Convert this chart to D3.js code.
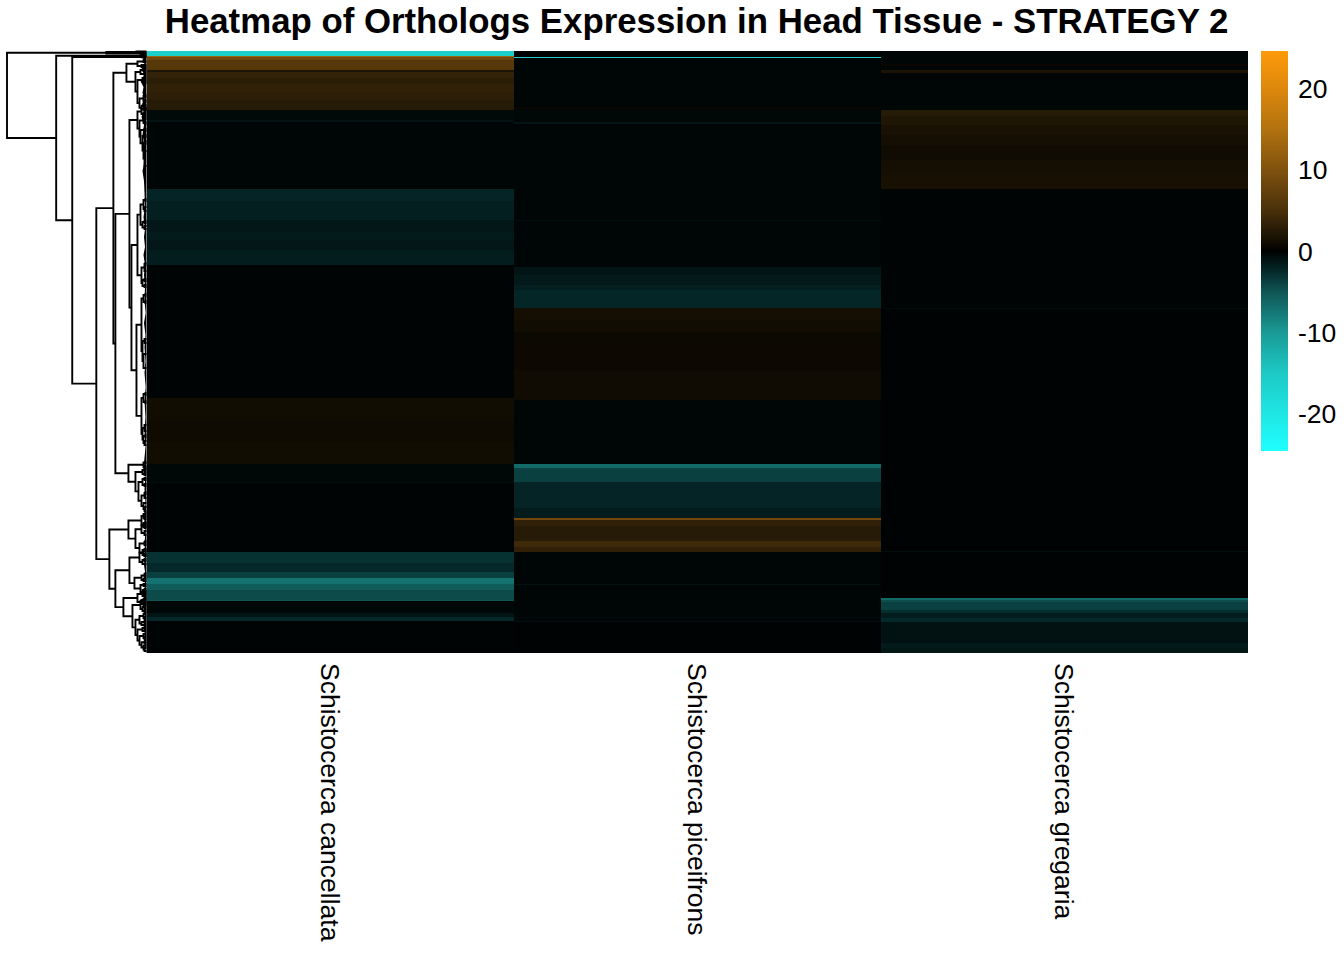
<!DOCTYPE html>
<html><head><meta charset="utf-8">
<script src="https://cdn.jsdelivr.net/npm/d3@7"></script>
<style>html,body{margin:0;background:#fff}svg{display:block}text{font-family:"Liberation Sans",Arial,sans-serif;fill:#000}</style>
</head><body><svg id="c" width="1344" height="960"></svg>
<script>
const titleText = "Heatmap of Orthologs Expression in Head Tissue - STRATEGY 2";
const species = ["Schistocerca cancellata","Schistocerca piceifrons","Schistocerca gregaria"];
const totalRows = 602;

// heatmap: consecutive bands per species, top to bottom
const cancellataRows = [5,1,3,10,2,6,6,8,8,10,10,2,67,12,19,12,8,10,15,133,22,22,22,18,1,69,11,9,6,6,6,10,1,12,4,4,32];
const cancellataVals = [-16,13,8.5,6.2,1.8,3.4,2.9,3.3,3,2.6,-0.5,-1.1,-0.25,-2.2,-1.9,-1.4,-1.6,-1.4,-1.7,-0.2,1.1,0.9,1.1,-0.35,-0.9,-0.2,-3,-2.5,-3.8,-7.2,-5.5,-4.4,-5,-0.4,-1.2,-2.4,-0.2];
const piceifronsRows = [6,1,49,2,13,2,96,1,46,8,10,5,18,12,12,13,25,30,64,4,2,12,26,10,2,6,15,6,5,32,1,32,1,3,1,31];
const piceifronsVals = [-0.1,-16,-0.25,0.6,-0.4,-1.2,-0.25,-0.8,-0.25,-1.2,-1.5,-1.9,-2.3,1.3,1.1,0.7,0.8,1.0,-0.25,-6.5,-4,-3.8,-2.2,-1.6,8.5,3.2,2.6,4.2,3.2,-0.25,-1,-0.25,-0.8,-0.25,-0.9,-0.15];
const gregariaRows = [13,2,4,3,37,6,9,10,10,15,15,14,119,1,242,1,46,2,2,8,3,5,4,21,5,5];
const gregariaVals = [-0.25,0.6,-0.25,1.9,-0.25,2.6,2.1,1.5,1.2,1,1.2,1.4,-0.2,-0.6,-0.15,-0.8,-0.15,-6.5,-4.6,-3.8,-2.7,-1.7,-2.5,-1,-1.6,-1.3];

// colour key
const keyStops  = [-24.6,-20,-15,-10,-5,-2.5,-0.25,0,1.2,2.5,5,10,15,20,24.6];
const keyColors = ["#20ffff","#1ee6e4","#1dc9c5","#1a9a96","#0f5554","#05292a","#000505","#000000","#140e03","#251a06","#4a300a","#80520e","#b2720f","#dd880c","#ff9a0a"];
const keyTicks  = [20,10,0,-10,-20];

// row dendrogram: [height, child, child]; a bare number is a leaf at that row
const dendrogram =
[139,
  [40,[10,0.5,1.5],2.5],
  [90,
    [6,[3,3.5,4.5],5.5],
    [74,
      [4,5.5,6.5],
      [50,
        [33,
          [20,
            [9,[3,10,11],[5,14,[2,15.5,16.5]]],
            [11,
              [6,[3,18,20],[2,22,24]],
              [9,
                [4,[2,26,28],[2,30,32]],
                [7,[3,[1,44,46],[2,49,51]],[5,[2,54,56],[3,[1,58,59],[1,57,60]]]]]]],
          [31,
            [17,
              [9,
                [5,[2,57,59],[3,62,64]],
                [7,[3,[1,66,68],[1,71,73]],[6,[2,78,80],[4,[2,84,86],[3,[1,90,93],[2,100,115]]]]]],
              [15,
                [9,
                  [6,[3,[1,148,150],[2,156,160]],[4,[2,170,172],[2,175,178]]],
                  [5,[2,[1,212,214],220],[4,[2,228,230],[2,234,236]]]],
                [10,
                  [5,[3,[1,243,245],[1,250,252]],[4,[2,288,292],[3,303,317]]],
                  [5,[3,[1,342,344],[1,350,352]],[4,[2,374,380],[3,[1,384,386],[2,390,394]]]]]]],
            [18,
              [3,[1,411,412],[2,415,417]],
              [11,
                [4,[2,418,420],[2,422,424]],
                [8,[4,[2,427,429],[2,433,435]],[5,[2,[1,441,443],447],[3,452,[2,456,460]]]]]]]],
        [37,
          [18,
            [5,[3,[1,462,464],[2,466,468]],[3,[1,471,473],[2,475,477]]],
            [11,[5,[3,[1,472,474],476],[2,480,484]],[7,[2,[1,490,492],494],[4,[2,498,500],[2,503,505]]]]],
          [31,
            [17,
              [7,[3,[1,499,501],[2,503,505]],[4,[2,508,510],513]],
              [12,[5,[2,[1,522,524],526],[3,528,530]],[6,[3,533,535],[4,[2,538,540],[2,542,544]]]]],
            [23,
              [9,[4,[2,540,542],[2,544,546]],[5,[2,548,550],[3,552,554]]],
              [14,
                [6,[3,[1,547,549],[2,551,553]],[4,[2,555,557],[2,559,561]]],
                [11,
                  [7,[3,[1,562,564],[2,566,568]],[5,[2,570,572],574]],
                  [9,[4,[2,576,578],580],[7,[3,[1,582,584],[2,586,588]],[5,[2,[1,590,591],592],[3,[1,594,595],[2,597,600]]]]]]]]]]]]]];

// dense tips of the tree beside the heatmap: [row, depth]
const fringe = [[0,1],[6,1],[8,4],[12,2],[18,5],[24,2],[30,6],[36,3],[42,4],[48,2],[54,5],[60,3],[66,5],[74,2.5],[84,4],[92,2],[100,3.5],[110,2],[120,4],[130,2.5],[142,2],[156,1.5],[166,3],[178,1.5],[186,2.5],[196,1.5],[204,3],[214,1.5],[224,2.5],[236,1.5],[250,2],[262,0.8],[272,2.5],[284,1],[296,2],[310,1],[322,2],[336,0.8],[350,2],[366,1],[380,2],[396,1],[412,2.5],[424,1],[438,2],[452,1],[466,2.5],[480,1],[492,2],[504,1.5],[514,2.5],[524,1],[534,2],[544,1.5],[552,2.5],[562,1],[572,2.5],[582,1.5],[590,2.5],[598,1],[602,0.5]];

const svg = d3.select("#c");
const y = d3.scaleLinear().domain([0,totalRows]).range([51,653]);
const x = d3.scaleBand().domain(species).range([147,1248]);
const color = d3.scaleLinear().domain(keyStops).range(keyColors).clamp(true);
const h = d3.scaleLinear().domain([0,139]).range([146.5,7]);

// heatmap
[[cancellataRows,cancellataVals],[piceifronsRows,piceifronsVals],[gregariaRows,gregariaVals]].forEach(([rows,vals],i)=>{
  const cum = d3.cumsum(rows);
  svg.append("g").selectAll("rect").data(vals).join("rect")
    .attr("x",x(species[i])).attr("width",x.bandwidth())
    .attr("y",(d,j)=>y(j?cum[j-1]:0))
    .attr("height",(d,j)=>y(cum[j])-y(j?cum[j-1]:0)+0.3)
    .attr("fill",d=>color(d)).attr("shape-rendering","crispEdges");
});

// dendrogram
const gd = svg.append("g").attr("fill","none").attr("stroke","#000").attr("stroke-width",1.9);
function draw(n){
  if(typeof n==="number") return {r:n,hh:0};
  const a=draw(n[1]), b=draw(n[2]);
  gd.append("path").attr("d",`M${h(a.hh)},${y(a.r)}H${h(n[0])}V${y(b.r)}H${h(b.hh)}`);
  return {r:(a.r+b.r)/2,hh:n[0]};
}
draw(dendrogram);
svg.append("path").datum(fringe).attr("fill","#000")
  .attr("d",d3.area().y(d=>y(d[0])).x0(h(0)).x1(d=>h(d[1])));

// labels
svg.append("text").attr("x",696.5).attr("y",33).attr("text-anchor","middle")
  .attr("font-size",34.8).attr("font-weight","bold").text(titleText);
svg.append("g").selectAll("text").data(species).join("text")
  .attr("font-size",26.5)
  .attr("transform",d=>`translate(${x(d)+x.bandwidth()/2-10},663) rotate(90)`)
  .text(d=>d);

// colour key
const ky = d3.scaleLinear().domain([24.6,-24.6]).range([51,451]);
svg.append("g").selectAll("rect").data(d3.range(0,400)).join("rect")
  .attr("x",1261).attr("width",27).attr("y",d=>51+d).attr("height",1.2)
  .attr("fill",d=>color(ky.invert(51+d+0.5))).attr("shape-rendering","crispEdges");
const axis = d3.axisRight(ky).tickValues(keyTicks).tickSize(0).tickPadding(10).tickFormat(d=>String(d));
const ga = svg.append("g").attr("transform","translate(1288,0.7)").call(axis);
ga.select(".domain").remove();
ga.selectAll("text").attr("font-size",26.5).attr("font-family","Liberation Sans").attr("fill","#000");
</script></body></html>
